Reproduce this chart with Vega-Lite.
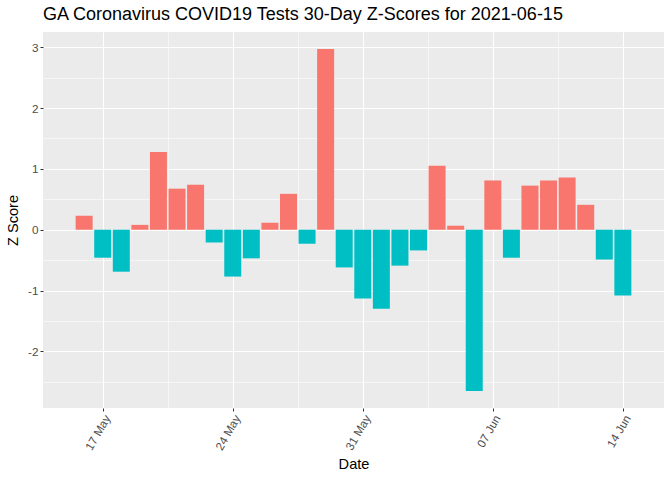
{
  "$schema": "https://vega.github.io/schema/vega-lite/v6.json",
  "width": 621,
  "height": 376,
  "autosize": "none",
  "padding": {"left": 43, "top": 32, "right": 8, "bottom": 72},
  "background": "white",
  "title": {
    "text": "GA Coronavirus COVID19 Tests 30-Day Z-Scores for 2021-06-15",
    "anchor": "start",
    "frame": "group",
    "font": "Liberation Sans",
    "fontSize": 18,
    "fontWeight": "normal",
    "color": "black",
    "offset": 8
  },
  "config": {
    "view": {"fill": "#EBEBEB", "stroke": null},
    "axis": {
      "labelFont": "Liberation Sans",
      "titleFont": "Liberation Sans",
      "labelColor": "#4D4D4D",
      "labelFontSize": 11.7,
      "titleFontSize": 14.6,
      "titleFontWeight": "normal",
      "titleColor": "black",
      "domain": false,
      "gridColor": "white",
      "tickColor": "#333333",
      "tickSize": 3,
      "labelPadding": 2
    }
  },
  "data": {
    "values": [
      {"date": "2021-05-16", "z": 0.23},
      {"date": "2021-05-17", "z": -0.46},
      {"date": "2021-05-18", "z": -0.69},
      {"date": "2021-05-19", "z": 0.08},
      {"date": "2021-05-20", "z": 1.28},
      {"date": "2021-05-21", "z": 0.675},
      {"date": "2021-05-22", "z": 0.74},
      {"date": "2021-05-23", "z": -0.21},
      {"date": "2021-05-24", "z": -0.77},
      {"date": "2021-05-25", "z": -0.47},
      {"date": "2021-05-26", "z": 0.115},
      {"date": "2021-05-27", "z": 0.59},
      {"date": "2021-05-28", "z": -0.23},
      {"date": "2021-05-29", "z": 2.97},
      {"date": "2021-05-30", "z": -0.62},
      {"date": "2021-05-31", "z": -1.13},
      {"date": "2021-06-01", "z": -1.3},
      {"date": "2021-06-02", "z": -0.59},
      {"date": "2021-06-03", "z": -0.34},
      {"date": "2021-06-04", "z": 1.05},
      {"date": "2021-06-05", "z": 0.066},
      {"date": "2021-06-06", "z": -2.65},
      {"date": "2021-06-07", "z": 0.81},
      {"date": "2021-06-08", "z": -0.46},
      {"date": "2021-06-09", "z": 0.725},
      {"date": "2021-06-10", "z": 0.81},
      {"date": "2021-06-11", "z": 0.86},
      {"date": "2021-06-12", "z": 0.41},
      {"date": "2021-06-13", "z": -0.49},
      {"date": "2021-06-14", "z": -1.08}
    ]
  },
  "mark": {"type": "bar", "size": 17},
  "encoding": {
    "x": {
      "field": "date",
      "type": "temporal",
      "title": "Date",
      "scale": {
        "type": "utc",
        "domain": [
          {"year": 2021, "month": 5, "date": 14, "hours": 1, "minutes": 19, "utc": true},
          {"year": 2021, "month": 6, "date": 15, "hours": 22, "minutes": 41, "utc": true}
        ]
      },
      "axis": {
        "values": [
          {"year": 2021, "month": 5, "date": 17, "utc": true},
          {"year": 2021, "month": 5, "date": 20, "hours": 12, "utc": true},
          {"year": 2021, "month": 5, "date": 24, "utc": true},
          {"year": 2021, "month": 5, "date": 27, "hours": 12, "utc": true},
          {"year": 2021, "month": 5, "date": 31, "utc": true},
          {"year": 2021, "month": 6, "date": 3, "hours": 12, "utc": true},
          {"year": 2021, "month": 6, "date": 7, "utc": true},
          {"year": 2021, "month": 6, "date": 10, "hours": 12, "utc": true},
          {"year": 2021, "month": 6, "date": 14, "utc": true}
        ],
        "labelExpr": "utchours(datum.value) != 0 ? '' : utcFormat(datum.value, '%d %b')",
        "labelAngle": -60,
        "labelAlign": "right",
        "labelBaseline": "top",
        "labelFlush": false,
        "labelOverlap": false,
        "gridWidth": {"condition": {"test": "utchours(datum.value) != 0", "value": 0.55}, "value": 1.1},
        "tickOpacity": {"condition": {"test": "utchours(datum.value) != 0", "value": 0}, "value": 1},
        "titlePadding": 4
      }
    },
    "y": {
      "field": "z",
      "type": "quantitative",
      "title": "Z Score",
      "scale": {"domain": [-2.931, 3.251], "nice": false, "zero": false},
      "axis": {
        "values": [-2.5, -2, -1.5, -1, -0.5, 0, 0.5, 1, 1.5, 2, 2.5, 3],
        "labelExpr": "datum.value % 1 != 0 ? '' : toString(datum.value)",
        "gridWidth": {"condition": {"test": "datum.value % 1 != 0", "value": 0.55}, "value": 1.1},
        "tickOpacity": {"condition": {"test": "datum.value % 1 != 0", "value": 0}, "value": 1},
        "labelFlush": false,
        "labelOverlap": false,
        "titlePadding": 7
      }
    },
    "color": {
      "condition": {"test": "datum.z > 0", "value": "#F8766D"},
      "value": "#00BFC4"
    }
  }
}
